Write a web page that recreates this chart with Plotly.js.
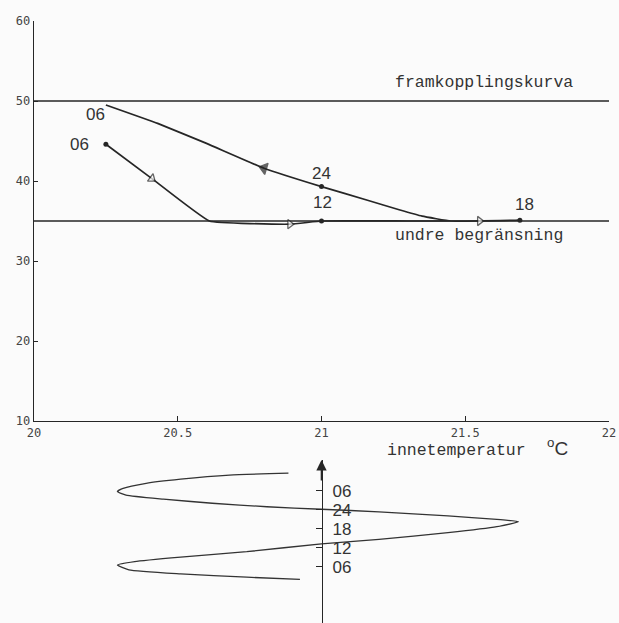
<!DOCTYPE html>
<html>
<head>
<meta charset="utf-8">
<script src="https://cdn.plot.ly/plotly-3.0.1.min.js"></script>
<style>html,body{margin:0;padding:0;background:#fbfbfb;}#chart{width:619px;height:623px;}</style>
</head>
<body>
<div id="chart"></div>
<script>
// ---- data ----
// closed daily path: 06 -> 12 -> 18 -> 24 -> 06 (next day)
const pathTemp   = [20.25, 20.41, 20.61, 20.89, 21.00, 21.30, 21.55, 21.69, 21.45, 21.35, 21.27, 21.16, 21.00, 20.80, 20.60, 20.43, 20.25];
const pathSupply = [44.6, 40.3, 35.0, 34.6, 35.0, 35.0, 35.0, 35.1, 35.0, 35.6, 36.4, 37.6, 39.3, 41.6, 44.7, 47.2, 49.5];

// labelled hours on the path
const hourTemp   = [20.25, 21.00, 21.69, 21.00, 20.25];
const hourSupply = [44.6, 35.0, 35.1, 39.3, 49.5];
const hourText   = ['06', '12', '18', '24', '06'];
const hourDot    = [true, true, true, true, false];

// direction arrows on the path
const arrowTemp   = [20.41, 20.89, 21.55, 20.80];
const arrowSupply = [40.3, 34.6, 35.0, 41.6];

// limit curves
const framkoppling = 50;
const undreGrans   = 35;

// indoor temperature over time (lower diagram), hours
const cycleHour = [35.6, 35.0, 33.7, 32.4, 30.8, 29.8, 28.7, 27.4, 26.1, 25.0, 24.2, 23.4, 22.1, 21.0, 20.3, 18.7, 16.8, 14.7, 13.3, 10.8, 9.1, 7.7, 6.6, 5.1, 3.8, 2.75, 2.1];
const cycleTemp = [20.885, 20.68, 20.51, 20.39, 20.31, 20.29, 20.32, 20.45, 20.62, 20.81, 21.00, 21.20, 21.44, 21.61, 21.685, 21.61, 21.44, 21.20, 21.00, 20.74, 20.51, 20.35, 20.29, 20.33, 20.51, 20.74, 20.925];
const timeTicks  = [6, 12, 18, 24, 30];
const timeLabels = ['06', '12', '18', '24', '06'];

const xTicks = [20, 20.5, 21, 21.5, 22];
const xTickText = ['20', '20.5', '21', '21.5', '22'];
const yTicks = [10, 20, 30, 40, 50, 60];

// ---- styling ----
const ink = '#262626';
const mono = 'DejaVu Sans Mono, monospace';
const typew = 'Liberation Mono, DejaVu Sans Mono, monospace';
const narrow = 'Liberation Sans Narrow, Liberation Sans, Arial, sans-serif';

const traces = [
  {x: [20, 22], y: [framkoppling, framkoppling], mode: 'lines', line: {color: ink, width: 1.4}, xaxis: 'x', yaxis: 'y'},
  {x: [20, 22], y: [undreGrans, undreGrans], mode: 'lines', line: {color: ink, width: 1.4}, xaxis: 'x', yaxis: 'y'},
  {x: pathTemp, y: pathSupply, mode: 'lines', line: {color: ink, width: 1.7, shape: 'spline', smoothing: 0.3}, xaxis: 'x', yaxis: 'y'},
  {x: hourTemp.filter((v, i) => hourDot[i]), y: hourSupply.filter((v, i) => hourDot[i]), mode: 'markers',
   marker: {color: ink, size: 5, symbol: 'circle'}, xaxis: 'x', yaxis: 'y'},
  {x: arrowTemp, y: arrowSupply, mode: 'markers', xaxis: 'x', yaxis: 'y',
   marker: {color: ['#fbfbfb', '#fbfbfb', '#fbfbfb', ink], size: [8, 8, 8, 10],
            symbol: ['triangle-right', 'triangle-right', 'triangle-right', 'triangle-left'],
            angle: [37, 0, 0, 17], line: {color: ink, width: 1.3}}},
  {x: cycleTemp, y: cycleHour, mode: 'lines', line: {color: '#333', width: 1.3, shape: 'spline', smoothing: 0.5}, xaxis: 'x2', yaxis: 'y2'}
];

const hourShift = [[-26, 0], [1, 18], [5, 16], [0, 13], [-10, -10]];
const annotations = hourText.map((t, i) => ({
  x: hourTemp[i], y: hourSupply[i], xref: 'x', yref: 'y', text: t, showarrow: false,
  xshift: hourShift[i][0], yshift: hourShift[i][1],
  font: {family: narrow, size: 17, color: '#333'}
}));
annotations.push(
  {x: 21.25, y: framkoppling, xref: 'x', yref: 'y', text: 'framkopplingskurva', showarrow: false,
   xanchor: 'left', yanchor: 'middle', yshift: 18, font: {family: typew, size: 16.5, color: '#333'}},
  {x: 21.25, y: undreGrans, xref: 'x', yref: 'y', text: 'undre begränsning', showarrow: false,
   xanchor: 'left', yanchor: 'middle', yshift: -15, font: {family: typew, size: 16.5, color: '#333'}},
  {x: 21.22, y: 1 - 450 / 623, xref: 'x', yref: 'paper', text: 'innetemperatur', showarrow: false,
   xanchor: 'left', yanchor: 'middle', font: {family: typew, size: 16.5, color: '#333'}},
  {x: 21.82, y: 1 - 447 / 623, xref: 'x', yref: 'paper', text: '<sup>o</sup>C', showarrow: false,
   xanchor: 'center', yanchor: 'middle', font: {family: narrow, size: 19, color: '#333'}},
  {x: 21, y: 39.75, xref: 'x2', yref: 'y2', ax: 0, ay: 22, axref: 'pixel', ayref: 'pixel', text: '',
   showarrow: true, arrowhead: 2, arrowsize: 1.3, arrowwidth: 1.6, arrowcolor: ink}
);

const layout = {
  width: 619, height: 623,
  margin: {l: 34, r: 10, t: 0, b: 0},
  paper_bgcolor: '#fbfbfb', plot_bgcolor: '#fbfbfb',
  showlegend: false,
  xaxis: {domain: [0, 1], range: [20, 22], anchor: 'y', tickvals: xTicks, ticktext: xTickText,
          ticks: 'inside', ticklen: 5, tickcolor: ink, showline: true, linecolor: ink, linewidth: 1.4,
          showgrid: false, zeroline: false, tickfont: {family: mono, size: 12, color: '#444'}},
  yaxis: {domain: [1 - 421 / 623, 1 - 21 / 623], range: [10, 60], anchor: 'x', tickvals: yTicks,
          ticks: 'inside', ticklen: 4, tickcolor: ink, showline: true, linecolor: ink, linewidth: 1.4,
          showgrid: false, zeroline: false, tickfont: {family: mono, size: 12, color: '#444'}},
  xaxis2: {domain: [0, 1], range: [20, 22], anchor: 'y2', visible: false, showgrid: false, zeroline: false},
  yaxis2: {domain: [0, 1 - 460 / 623], range: [-11.7, 39.75], anchor: 'free', position: 0.5,
           side: 'right', tickvals: timeTicks, ticktext: timeLabels, ticks: 'inside', ticklen: 6, tickcolor: ink,
           showline: true, linecolor: ink, linewidth: 1.6, showgrid: false, zeroline: false,
           ticklabelstandoff: 6, tickfont: {family: narrow, size: 17, color: '#333'}},
  annotations: annotations
};

Plotly.newPlot('chart', traces, layout, {staticPlot: true, displayModeBar: false});
</script>
</body>
</html>
